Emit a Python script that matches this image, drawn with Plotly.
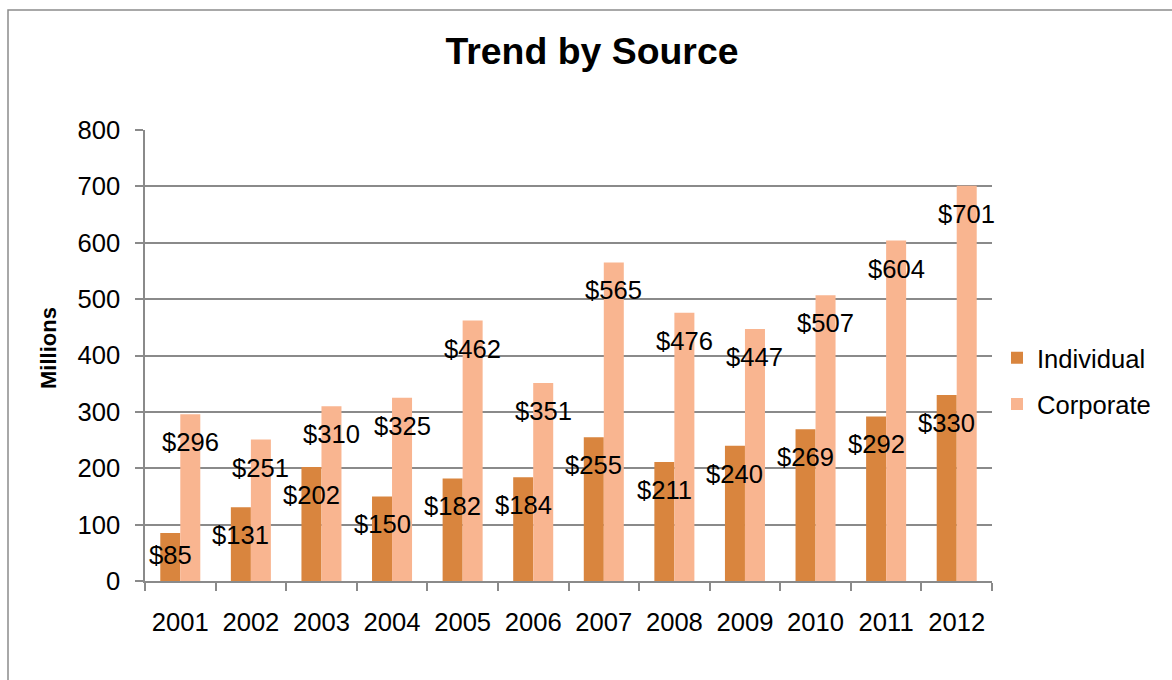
import plotly.graph_objects as go

# Funding trend by source, in millions of dollars
years = ["2001", "2002", "2003", "2004", "2005", "2006",
         "2007", "2008", "2009", "2010", "2011", "2012"]
individual = [85, 131, 202, 150, 182, 184, 255, 211, 240, 269, 292, 330]
corporate = [296, 251, 310, 325, 462, 351, 565, 476, 447, 507, 604, 701]

y_ticks = [0, 100, 200, 300, 400, 500, 600, 700, 800]

FONT = "Liberation Sans, Arial, sans-serif"
FS = 25.6
C_IND = "#D9853E"
C_CORP = "#F9B590"
GRID = "#8A8A8A"

# plot-area geometry in pixels
W, H = 1172, 680
L, R, T, B = 145, 180, 130, 99
plot_w = W - L - R
plot_h = H - T - B
Y_MAX = 800
BARGAP = 0.433

fig = go.Figure()
fig.add_trace(go.Bar(name="Individual", x=years, y=individual,
                     marker=dict(color=C_IND, line=dict(width=0)),
                     legendgroup="ind"))
fig.add_trace(go.Bar(name="Corporate", x=years, y=corporate,
                     marker=dict(color=C_CORP, line=dict(width=0)),
                     legendgroup="corp"))

# value labels sit just inside the top of each bar
bar_w = (1 - BARGAP) / 2          # one bar's width in category units
annotations = []
for series, off in ((individual, -bar_w / 2), (corporate, bar_w / 2)):
    for i, v in enumerate(series):
        h_px = v / Y_MAX * plot_h
        drop = min(28, h_px - 26)
        annotations.append(dict(
            x=i + off, y=v, xref="x", yref="y", text=f"${v}",
            showarrow=False, yshift=-drop,
            xanchor="center", yanchor="middle",
            font=dict(family=FONT, size=FS, color="#000000"),
        ))

# y-axis title
annotations.append(dict(
    x=(48 - L) / plot_w, y=(H - B - 348) / plot_h, xref="paper", yref="paper",
    text="<b>Millions</b>", textangle=-90, showarrow=False,
    xanchor="center", yanchor="middle",
    font=dict(family=FONT, size=22, color="#000000"),
))

fig.update_layout(
    width=W, height=H,
    margin=dict(l=L, r=R, t=T, b=B, pad=0),
    paper_bgcolor="white", plot_bgcolor="white",
    barmode="group", bargap=BARGAP, bargroupgap=0,
    title=dict(text="<b>Trend by Source</b>", x=(592 - L) / plot_w, xref="paper",
               xanchor="center", y=1 - 51 / H, yref="container", yanchor="middle",
               font=dict(family=FONT, size=37.4, color="#000000")),
    font=dict(family=FONT, size=FS, color="#000000"),
    legend=dict(x=(997 - L) / plot_w, xanchor="left",
                y=(H - B - 381) / plot_h, yanchor="middle",
                traceorder="grouped", tracegroupgap=10,
                font=dict(family=FONT, size=FS, color="#000000"),
                bgcolor="rgba(0,0,0,0)"),
    annotations=annotations,
    shapes=[dict(type="rect", xref="paper", yref="paper",
                 x0=(8 - L) / plot_w, x1=(1195 - L) / plot_w,
                 y0=(H - B - 700) / plot_h, y1=(H - B - 10) / plot_h,
                 line=dict(color="#8C8C8C", width=1.5), layer="below")],
)

fig.update_xaxes(
    type="category", categoryorder="array", categoryarray=years,
    range=[-0.5, len(years) - 0.5], autorange=False,
    tickson="boundaries", ticks="outside", ticklen=8, tickangle=0,
    tickcolor=GRID, tickwidth=1.5, showline=True, linecolor=GRID, linewidth=1.5,
    showgrid=False, ticklabelstandoff=18,
    tickfont=dict(family=FONT, size=FS, color="#000000"),
)
fig.update_yaxes(
    range=[0, Y_MAX], autorange=False, tickvals=y_ticks, ticks="outside", ticklen=8,
    tickcolor=GRID, tickwidth=1.5, showline=True, linecolor=GRID, linewidth=1.5,
    showgrid=True, gridcolor=GRID, gridwidth=1.5, zeroline=False,
    ticklabelstandoff=10,
    tickfont=dict(family=FONT, size=FS, color="#000000"),
)

fig.write_html("out.html")
